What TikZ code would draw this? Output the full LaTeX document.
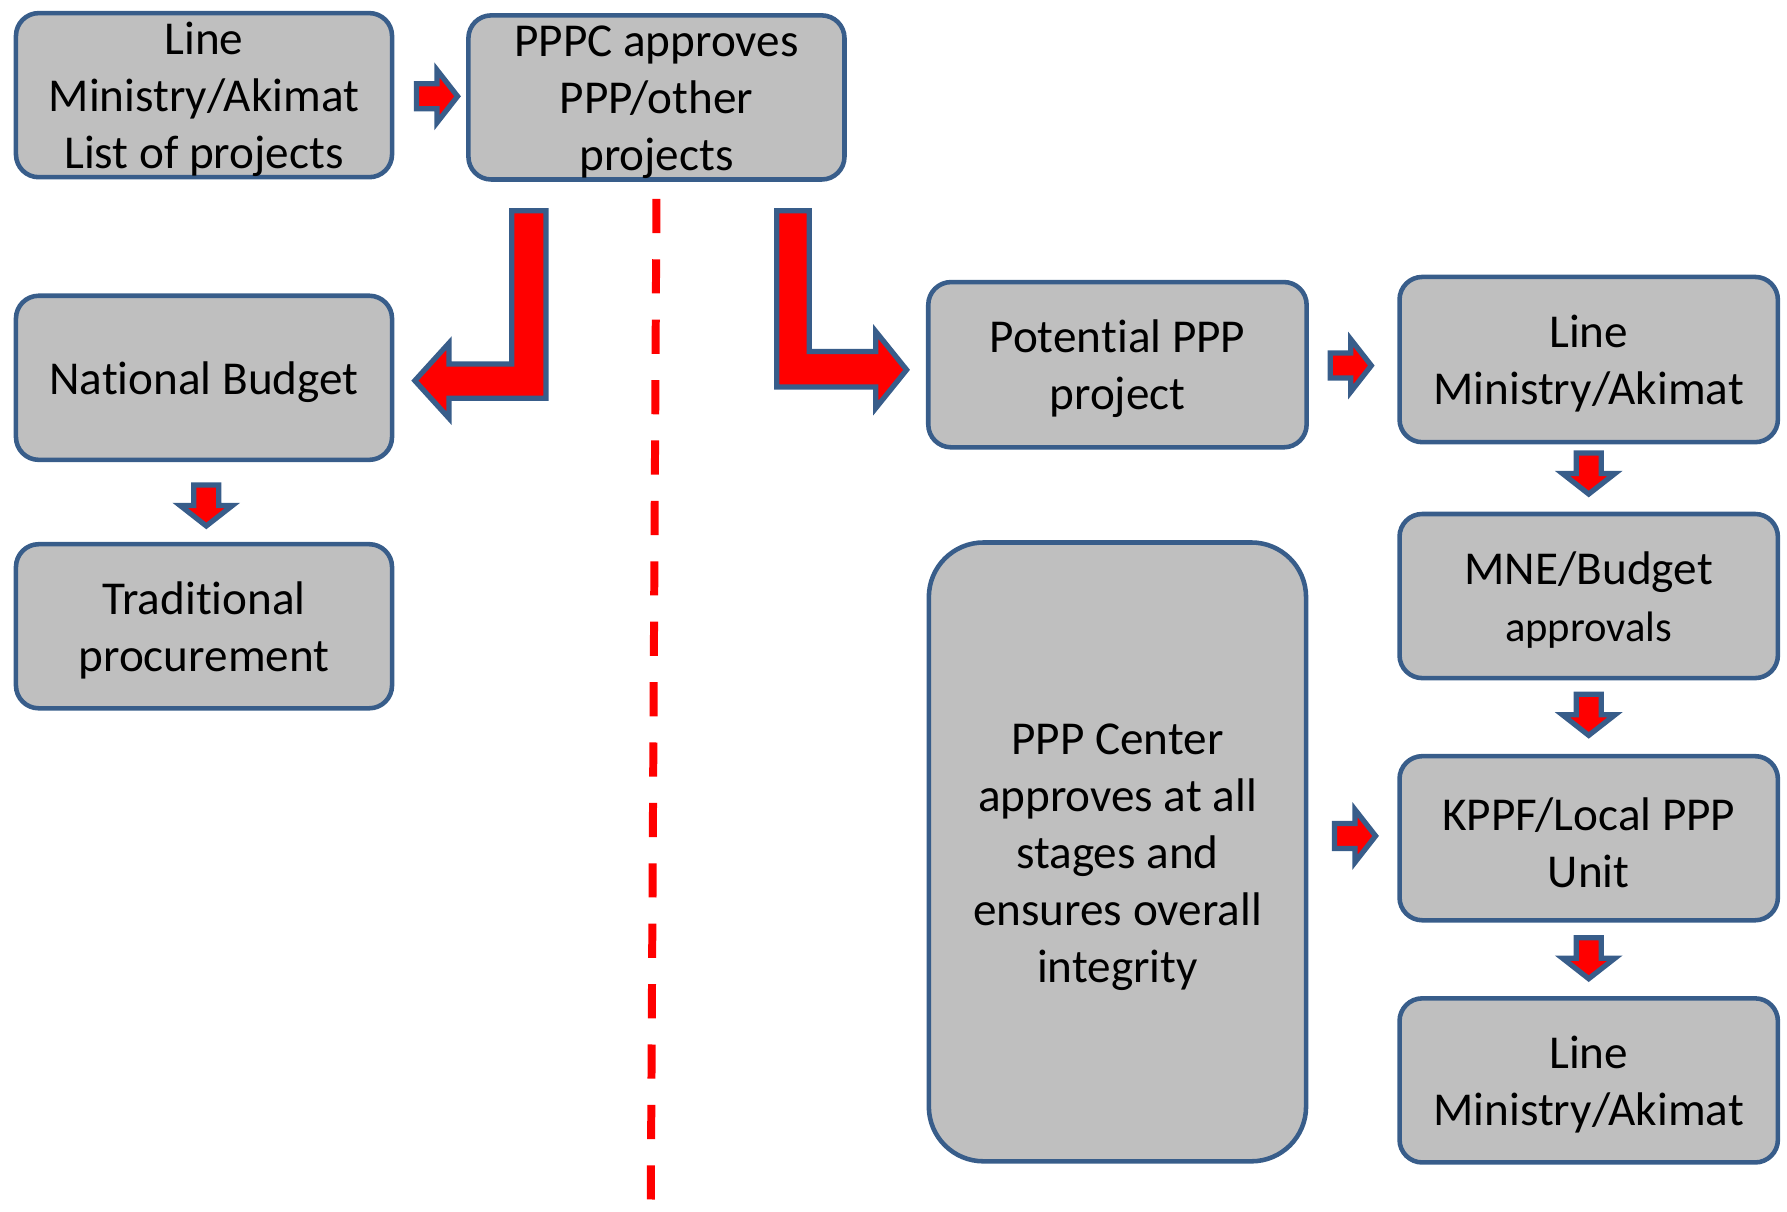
\documentclass[tikz,border=0pt]{standalone}
\usepackage{fontspec}
\setmainfont{Carlito}[Ligatures=NoCommon]
\usetikzlibrary{calc}
\definecolor{edgeblue}{HTML}{385D8A}
\definecolor{boxgray}{HTML}{BFBFBF}
\definecolor{flowred}{HTML}{FF0000}
\tikzset{
  procbox/.style={draw=edgeblue, fill=boxgray, line width=2pt, rounded corners=10pt,
    minimum width=165pt, minimum height=72pt, text width=160pt, align=flush center, inner sep=0pt,
    font=\fontsize{20.7pt}{25pt}\selectfont,
    execute at begin node={\rule{0pt}{18pt}}},
  blockarrow/.style={draw=edgeblue, fill=flowred, line width=2.3pt, line join=miter},
  rblk/.pic={\draw[blockarrow] (-18,-11)--(0,-11)--(0,-23)--(18,0)--(0,23)--(0,11)--(-18,11)--cycle;},
  dblk/.pic={\draw[blockarrow] (-11,-18)--(-11,0)--(-23,0)--(0,18)--(23,0)--(11,0)--(11,-18)--cycle;},
}
\begin{document}
\begin{tikzpicture}[x=0.5pt, y=-0.5pt]
\useasboundingbox (0,0) rectangle (1568,1063);

% left side
\node[procbox] (list) at (179,83.5) {Line\\Ministry/Akimat\\List of projects};
\node[procbox] (pppc) at (576,85.5) {PPPC approves\\PPP/other\\projects};
\node[procbox] (budget) at (179,331.5) {National Budget};
\node[procbox] (trad) at (179,549.5) {Tradi\kern0pt tional\\procurement};

% right side
\node[procbox, minimum width=166pt, minimum height=72.5pt] (potential) at (980.5,320) {Poten\kern0pt tial PPP\\project};
\node[procbox, minimum width=166pt, minimum height=72.5pt] (lmtop) at (1394,315.5) {Line\\Ministry/Akimat};
\node[procbox, minimum width=166pt] (mne) at (1394,523) {MNE/Budget\\{\fontsize{18.7pt}{25pt}\selectfont approvals}};
\node[procbox, minimum width=166pt] (kppf) at (1394,735.5) {KPPF/Local PPP\\Unit};
\node[procbox, minimum width=166pt] (lmbot) at (1394,948) {Line\\Ministry/Akimat};
\node[procbox, minimum width=165.5pt, minimum height=271.5pt, rounded corners=24pt] (center) at (980.5,747.5)
  {PPP Center\\approves at all\\stages and\\ensures overall\\integrity};

% small block arrows
\pic at ($(list.east)!0.5!(pppc.west)+(6,0)$) {rblk};
\pic at ($(budget.south)!0.5!(trad.north)+(2,3)$) {dblk};
\pic at ($(potential.east)!0.5!(lmtop.west)+(-2,3)$) {rblk};
\pic at ($(lmtop.south)!0.5!(mne.north)+(0,-4)$) {dblk};
\pic at ($(mne.south)!0.5!(kppf.north)+(0,-2)$) {dblk};
\pic at ($(kppf.south)!0.5!(lmbot.north)+(0,-1)$) {dblk};
\pic at ($(center.east |- kppf.west)!0.5!(kppf.west)+(2,-2)$) {rblk};

% bent arrows out of the PPPC decision
\draw[blockarrow] (479,185) -- (479,349.5) -- (394,349.5) -- (394,367) -- (364,334)
  -- (394,301) -- (394,319.5) -- (449,319.5) -- (449,185) -- cycle;
\draw[blockarrow] (681.5,185) -- (710,185) -- (710,308.5) -- (768.5,308.5) -- (768.5,291)
  -- (795.5,324.5) -- (768.5,358) -- (768.5,339.5) -- (681.5,339.5) -- cycle;

% dividing line
\coordinate (divtop) at ($(pppc.south)+(0,15)$);
\coordinate (divbot) at (571,1058);
\draw[flowred, line width=3.5pt, dash pattern=on 15pt off 11.5pt] (divtop) -- (divbot);
\end{tikzpicture}
\end{document}
